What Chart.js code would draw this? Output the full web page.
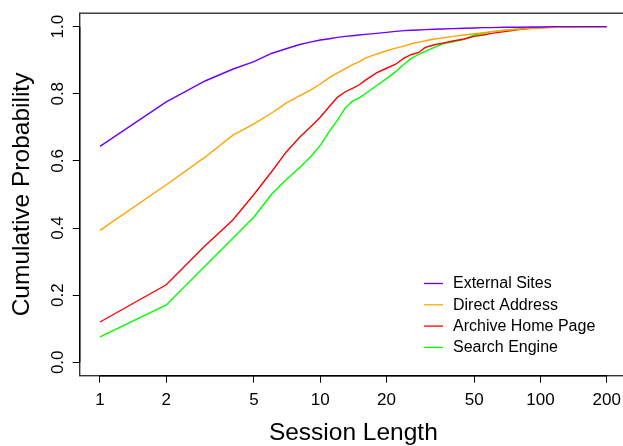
<!DOCTYPE html>
<html>
<head>
<meta charset="utf-8">
<script src="https://cdn.jsdelivr.net/npm/chart.js@4/dist/chart.umd.min.js"></script>
<style>
html,body{margin:0;padding:0;background:#fff;overflow:hidden;width:623px;height:446px;}
#wrap{width:660px;height:446px;}
</style>
</head>
<body>
<div id="wrap"><canvas id="c" width="660" height="446"></canvas></div>
<script>
// ---- data ----
const sessionLengths = [1,2,3,4,5,6,7,8,9,10,11,12,13,14,15,16,18,20,22,24,26,28,30,33,36,40,45,50,55,60,70,80,90,100,120,150,200];
const externalSites = [0.643,0.776,0.838,0.873,0.896,0.920,0.934,0.946,0.954,0.960,0.964,0.968,0.971,0.973,0.975,0.977,0.980,0.983,0.986,0.988,0.989,0.990,0.991,0.992,0.993,0.994,0.995,0.996,0.997,0.997,0.998,0.998,0.999,0.999,1.0,1.0,1.0];
const directAddress = [0.393,0.529,0.611,0.676,0.710,0.742,0.772,0.793,0.810,0.829,0.848,0.862,0.875,0.887,0.895,0.906,0.918,0.928,0.936,0.942,0.949,0.954,0.958,0.963,0.966,0.971,0.975,0.979,0.982,0.985,0.989,0.992,0.994,0.996,0.998,0.999,1.0];
const archiveHomePage = [0.120,0.231,0.347,0.423,0.500,0.567,0.626,0.668,0.700,0.730,0.762,0.790,0.806,0.816,0.826,0.840,0.862,0.876,0.888,0.906,0.917,0.923,0.938,0.946,0.951,0.957,0.963,0.971,0.975,0.980,0.986,0.991,0.995,0.997,0.999,1.0,1.0];
const searchEngine = [0.076,0.171,0.287,0.369,0.433,0.500,0.544,0.578,0.611,0.646,0.688,0.722,0.758,0.778,0.787,0.800,0.824,0.845,0.866,0.888,0.906,0.917,0.926,0.938,0.949,0.955,0.962,0.975,0.980,0.985,0.990,0.993,0.995,0.997,0.999,1.0,1.0];
const seriesNames = ["External Sites","Direct Address","Archive Home Page","Search Engine"];
const seriesColors = ["#6E00FF","#FFA500","#FF0000","#00FF00"];
const xTicks = [1,2,5,10,20,50,100,200];
const yTicks = [0,0.2,0.4,0.6,0.8,1.0];
const xTitle = "Session Length";
const yTitle = "Cumulative Probability";

const FONT = "'Liberation Sans', Arial, Helvetica, sans-serif";
const allSeries = [externalSites, directAddress, archiveHomePage, searchEngine];

const datasets = allSeries.map((vals, i) => ({
  label: seriesNames[i],
  data: sessionLengths.map((x, j) => ({x: x, y: vals[j]})),
  borderColor: seriesColors[i],
  backgroundColor: seriesColors[i],
  borderWidth: 1.4,
  pointRadius: 0,
  tension: 0,
  fill: false
}));

// log extension of 4% like R
const lx0 = Math.log10(xTicks[0]), lx1 = Math.log10(xTicks[xTicks.length-1]);
const ext = (lx1 - lx0) * 0.04;
const xMin = Math.pow(10, lx0 - ext), xMax = Math.pow(10, lx1 + ext);
const yMin = yTicks[0] - 0.04, yMax = yTicks[yTicks.length-1] + 0.04;

const framePlugin = {
  id: 'frame',
  afterDraw(chart) {
    const {ctx, chartArea: a, scales} = chart;
    ctx.save();
    ctx.strokeStyle = '#333';
    ctx.lineWidth = 1.4;
    ctx.strokeRect(a.left, a.top, a.right - a.left, a.bottom - a.top);
    ctx.strokeStyle = '#000';
    ctx.lineWidth = 1.4;
    ctx.beginPath();
    ctx.moveTo(scales.x.getPixelForValue(xTicks[0]), a.bottom);
    ctx.lineTo(scales.x.getPixelForValue(xTicks[xTicks.length-1]), a.bottom);
    ctx.moveTo(a.left, scales.y.getPixelForValue(yTicks[0]));
    ctx.lineTo(a.left, scales.y.getPixelForValue(yTicks[yTicks.length-1]));
    ctx.stroke();
    // rotated y tick labels (R style, reading upward), from the scale's ticks
    const ys = scales.y;
    ctx.fillStyle = '#000';
    ctx.font = '17px ' + FONT;
    ctx.textAlign = 'center';
    ctx.textBaseline = 'middle';
    ys.ticks.forEach(t => {
      const py = ys.getPixelForValue(t.value);
      ctx.save();
      ctx.translate(a.left - 21.7, py);
      ctx.rotate(-Math.PI / 2);
      ctx.fillText(t.label, 0, 0);
      ctx.restore();
    });
    // legend inside plot (bottom right)
    ctx.font = '16px ' + FONT;
    ctx.textBaseline = 'middle';
    ctx.textAlign = 'left';
    const step = 21.3;
    const y0 = a.bottom - 92.2;
    chart.data.datasets.forEach((ds, i) => {
      const y = y0 + i * step;
      ctx.strokeStyle = ds.borderColor;
      ctx.lineWidth = 1.3;
      ctx.beginPath();
      ctx.moveTo(a.right - 203, y);
      ctx.lineTo(a.right - 184, y);
      ctx.stroke();
      ctx.fillStyle = '#000';
      ctx.fillText(ds.label, a.right - 174, y + 0.5);
    });
    ctx.restore();
  }
};

new Chart(document.getElementById('c'), {
  type: 'line',
  data: { datasets },
  plugins: [framePlugin],
  options: {
    responsive: false,
    animation: false,
    devicePixelRatio: 1,
    layout: { padding: { left: 0, top: 12, right: 33, bottom: 0 } },
    plugins: { legend: { display: false }, tooltip: { enabled: false } },
    scales: {
      x: {
        type: 'logarithmic',
        min: xMin, max: xMax,
        afterBuildTicks: s => { s.ticks = xTicks.map(v => ({value: v})); },
        afterFit: s => { s.height = 70.3; },
        border: { display: false },
        grid: { drawOnChartArea: false, drawTicks: true, tickLength: 7, tickColor: '#000', lineWidth: 1 },
        ticks: {
          autoSkip: false, maxRotation: 0, minRotation: 0, padding: 7,
          color: '#000', font: { family: FONT, size: 17 },
          callback: v => String(v)
        },
        title: { display: true, text: xTitle, color: '#000', font: { family: FONT, size: 24.5, lineHeight: 1 }, padding: { top: 0, bottom: 1 } }
      },
      y: {
        type: 'linear',
        min: yMin, max: yMax,
        afterBuildTicks: s => { s.ticks = yTicks.map(v => ({value: v})); },
        afterFit: s => { s.width = 79.7; },
        border: { display: false },
        grid: { drawOnChartArea: false, drawTicks: true, tickLength: 7, tickColor: '#000', lineWidth: 1 },
        ticks: {
          display: true, autoSkip: false, color: 'rgba(0,0,0,0)',
          font: { family: FONT, size: 17 },
          callback: v => Number(v).toFixed(1)
        },
        title: { display: true, text: yTitle, color: '#000', font: { family: FONT, size: 24.5, lineHeight: 1 }, padding: { top: 9.5, bottom: 0 } }
      }
    }
  }
});
</script>
</body>
</html>
